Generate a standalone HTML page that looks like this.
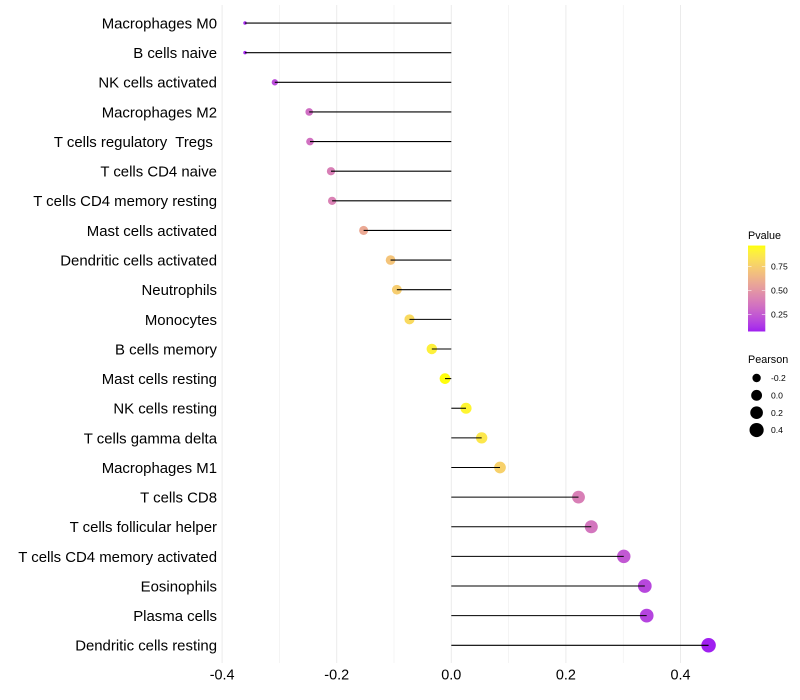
<!DOCTYPE html>
<html>
<head>
<meta charset="utf-8">
<style>
html,body{margin:0;padding:0;background:#fff;}
svg{display:block;font-family:"Liberation Sans",sans-serif;}
text{white-space:pre;}
</style>
</head>
<body>
<svg id="chart" width="800" height="700" viewBox="0 0 800 700" xmlns="http://www.w3.org/2000/svg">
<defs>
<linearGradient id="pgrad" x1="0" y1="1" x2="0" y2="0"></linearGradient>
</defs>
<rect x="0" y="0" width="800" height="700" fill="#ffffff"></rect>
<g id="grid"></g>
<g id="stems"></g>
<g id="ylabels"></g>
<g id="xlabels"></g>
<g id="legend-p"></g>
<g id="legend-s"></g>
</svg>
<script>
const categories = ["Macrophages M0","B cells naive","NK cells activated","Macrophages M2","T cells regulatory  Tregs ","T cells CD4 naive","T cells CD4 memory resting","Mast cells activated","Dendritic cells activated","Neutrophils","Monocytes","B cells memory","Mast cells resting","NK cells resting","T cells gamma delta","Macrophages M1","T cells CD8","T cells follicular helper","T cells CD4 memory activated","Eosinophils","Plasma cells","Dendritic cells resting"];
const pearson = [-0.36,-0.36,-0.308,-0.248,-0.2466,-0.21,-0.208,-0.153,-0.106,-0.095,-0.073,-0.034,-0.011,0.0257,0.053,0.085,0.222,0.2443,0.301,0.3377,0.341,0.449];
const pvalues = [0.09,0.09,0.20,0.33,0.34,0.40,0.41,0.58,0.70,0.74,0.80,0.90,0.96,0.92,0.86,0.76,0.40,0.36,0.24,0.18,0.17,0.07];
const xMajorTicks = [-0.4,-0.2,0,0.2,0.4];
const xMinorTicks = [-0.3,-0.1,0.1,0.3];
const xTickLabels = ["-0.4","-0.2","0.0","0.2","0.4"];
const pLegendTicks = [0.25,0.5,0.75];
const pLegendLabels = ["0.25","0.50","0.75"];
const sizeLegendValues = [-0.2,0,0.2,0.4];
const sizeLegendLabels = ["-0.2","0.0","0.2","0.4"];

const NS = "http://www.w3.org/2000/svg";
function xScale(v){ return 451.3 + 573 * v; }
function yScale(i){ return 23.05 + 29.63 * i; }
const SIZE_MIN = -0.36, SIZE_MAX = 0.449;
function rScale(v){
  const t = Math.min(1.1,Math.max(0,(v - SIZE_MIN)/(SIZE_MAX - SIZE_MIN)));
  return 1.75 + 5.5 * Math.sqrt(t);
}
const P_LOW = 0.071, P_HIGH = 0.966;
function legendY(p){ return 290.3 - (p - 0.5) * 96; }

function rgb2lab(c){
  const f = c.map(function(u){ u/=255; return u>0.04045?Math.pow((u+0.055)/1.055,2.4):u/12.92; });
  const X=(0.4124*f[0]+0.3576*f[1]+0.1805*f[2])/0.95047;
  const Y=(0.2126*f[0]+0.7152*f[1]+0.0722*f[2]);
  const Z=(0.0193*f[0]+0.1192*f[1]+0.9505*f[2])/1.08883;
  const g=function(t){ return t>0.008856?Math.cbrt(t):7.787*t+16/116; };
  return [116*g(Y)-16,500*(g(X)-g(Y)),200*(g(Y)-g(Z))];
}
function lab2rgb(l){
  const fy=(l[0]+16)/116, fx=fy+l[1]/500, fz=fy-l[2]/200;
  const g=function(t){ return t*t*t>0.008856?t*t*t:(t-16/116)/7.787; };
  const X=g(fx)*0.95047,Y=g(fy),Z=g(fz)*1.08883;
  const r=[3.2406*X-1.5372*Y-0.4986*Z,-0.9689*X+1.8758*Y+0.0415*Z,0.0557*X-0.2040*Y+1.0570*Z];
  return r.map(function(u){ u=u>0.0031308?1.055*Math.pow(u,1/2.4)-0.055:12.92*u; return Math.round(Math.min(1,Math.max(0,u))*255); });
}
const LOW_LAB = rgb2lab([160,32,240]), HIGH_LAB = rgb2lab([255,255,0]);
function colorScale(p){
  const t = Math.min(1,Math.max(0,(p-P_LOW)/(P_HIGH-P_LOW)));
  const c = lab2rgb(LOW_LAB.map(function(a,k){ return a+(HIGH_LAB[k]-a)*t; }));
  return "rgb("+c[0]+","+c[1]+","+c[2]+")";
}
function mk(parent,tag,attrs){
  const el=document.createElementNS(NS,tag);
  for(const k in attrs){ el.setAttribute(k,attrs[k]); }
  parent.appendChild(el);
  return el;
}

const grid=document.getElementById("grid");
xMinorTicks.forEach(function(v){
  const l=mk(grid,"line",{x1:xScale(v),x2:xScale(v),y1:5,y2:663,stroke:"#ebebeb","stroke-width":0.55});
  
  
});
xMajorTicks.forEach(function(v){
  const l=mk(grid,"line",{x1:xScale(v),x2:xScale(v),y1:5,y2:663,stroke:"#ebebeb","stroke-width":1.0});
  
  
});

const stems=document.getElementById("stems");
categories.forEach(function(c,i){
  const pt=mk(stems,"circle",{cx:xScale(pearson[i]),cy:yScale(i),r:rScale(pearson[i]),fill:colorScale(pvalues[i])});
  
  
  const ln=mk(stems,"line",{x1:xScale(0),x2:xScale(pearson[i]),y1:yScale(i),y2:yScale(i),stroke:"#000000","stroke-width":1.07});
  
  
  const t=mk(document.getElementById("ylabels"),"text",{x:217,y:yScale(i)+5.4,"text-anchor":"end","font-size":14.93,fill:"#000000"});
  
  
  t.textContent=c;
});

xMajorTicks.forEach(function(v,i){
  const t=mk(document.getElementById("xlabels"),"text",{x:xScale(v),y:679.5,"text-anchor":"middle","font-size":14.4,fill:"#000000"});
  
  
  t.textContent=xTickLabels[i];
});

const grad=document.getElementById("pgrad");
for(let k=0;k<=40;k++){
  const p=P_LOW+(P_HIGH-P_LOW)*k/40;
  mk(grad,"stop",{offset:(k/40),"stop-color":colorScale(p)});
}
const lp=document.getElementById("legend-p");
const pTitle=mk(lp,"text",{x:748,y:239,"font-size":10.8,fill:"#000000"});


pTitle.textContent="Pvalue";
const bar=mk(lp,"rect",{x:748,y:legendY(P_HIGH),width:17.3,height:legendY(P_LOW)-legendY(P_HIGH),fill:"url(#pgrad)"});


pLegendTicks.forEach(function(p,i){
  const y=legendY(p);
  const a=mk(lp,"line",{x1:748,x2:751.5,y1:y,y2:y,stroke:"#ffffff","stroke-width":0.55});
  
  
  const b=mk(lp,"line",{x1:761.8,x2:765.3,y1:y,y2:y,stroke:"#ffffff","stroke-width":0.55});
  
  
  const t=mk(lp,"text",{x:771,y:y+3.1,"font-size":8.6,fill:"#000000"});
  
  
  t.textContent=pLegendLabels[i];
});

const ls=document.getElementById("legend-s");
const sTitle=mk(ls,"text",{x:748,y:363,"font-size":10.8,fill:"#000000"});


sTitle.textContent="Pearson";
sizeLegendValues.forEach(function(v,i){
  const y=378+17.35*i;
  const c=mk(ls,"circle",{cx:756.6,cy:y,r:rScale(v),fill:"#000000"});
  
  
  const t=mk(ls,"text",{x:771,y:y+3.1,"font-size":8.6,fill:"#000000"});
  
  
  t.textContent=sizeLegendLabels[i];
});
</script>
</body>
</html>
